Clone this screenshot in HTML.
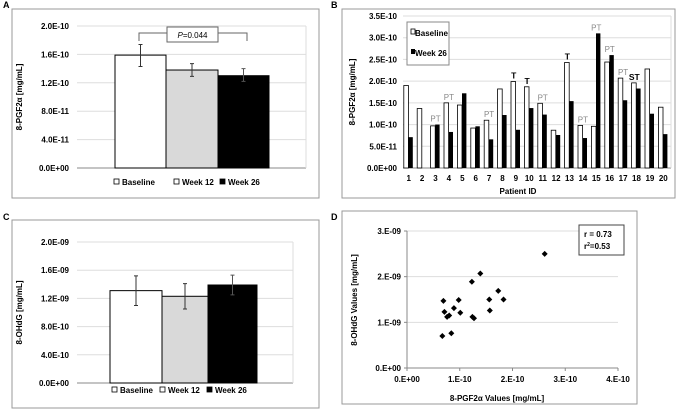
<!DOCTYPE html>
<html><head><meta charset="utf-8"><style>
html,body{margin:0;padding:0;background:#fff;}
svg{display:block;font-family:"Liberation Sans",Arial,sans-serif;font-weight:bold;}
</style></head><body>
<svg id="fig" width="680" height="417" viewBox="0 0 680 417" xmlns="http://www.w3.org/2000/svg">
<g font-size="9">
<text x="3" y="8">A</text>
<text x="331" y="8">B</text>
<text x="3" y="220">C</text>
<text x="331" y="220">D</text>
</g>
<rect x="12" y="9" width="307" height="189" fill="#fff" stroke="#999"/>
<rect x="342" y="9" width="333" height="189" fill="#fff" stroke="#999"/>
<rect x="12" y="220" width="307" height="188" fill="#fff" stroke="#999"/>
<rect x="342" y="211" width="295" height="193" fill="#fff" stroke="#999"/>
<g id="A"></g>
<g id="B"></g>
<g id="C"></g>
<g id="D"></g>
</svg>
<script>
// Panel A data
const aCats = ["Baseline","Week 12","Week 26"];
const aVals = [1.59e-10,1.38e-10,1.30e-10];
const aLo = [1.43e-10,1.29e-10,1.22e-10];
const aHi = [1.74e-10,1.47e-10,1.40e-10];
const aTicks = [0,4e-11,8e-11,1.2e-10,1.6e-10,2e-10];
const aTickLabels = ["0.0E+00","4.0E-11","8.0E-11","1.2E-10","1.6E-10","2.0E-10"];
// Panel B data
const bPatients = ["1","2","3","4","5","6","7","8","9","10","11","12","13","14","15","16","17","18","19","20"];
const bBase = [1.90,1.37,0.97,1.50,1.45,0.92,1.10,1.82,1.99,1.87,1.49,0.87,2.43,0.98,0.96,2.44,2.07,1.96,2.28,1.40];
const bW26 = [0.71,0,1.00,0.83,1.72,0.96,0.66,1.22,0.88,1.38,1.23,0.76,1.54,0.69,3.10,2.60,1.56,1.83,1.25,0.78];
const bNotes = ["","","PT","PT","","","PT","","T","T","PT","","T","PT","PT","PT","PT","ST","",""];
const bTicks = [0,0.5,1,1.5,2,2.5,3,3.5];
const bTickLabels = ["0.0E+00","5.0E-11","1.0E-10","1.5E-10","2.0E-10","2.5E-10","3.0E-10","3.5E-10"];
// Panel C data
const cCats = ["Baseline","Week 12","Week 26"];
const cVals = [1.31e-9,1.23e-9,1.39e-9];
const cLo = [1.10e-9,1.05e-9,1.25e-9];
const cHi = [1.52e-9,1.41e-9,1.53e-9];
const cTicks = [0,4e-10,8e-10,1.2e-9,1.6e-9,2e-9];
const cTickLabels = ["0.0E+00","4.0E-10","8.0E-10","1.2E-09","1.6E-09","2.0E-09"];
// Panel D data (x in 1e-10, y in 1e-9)
const dX = [0.69,0.71,0.76,0.80,0.67,0.84,0.89,0.98,1.01,1.23,1.24,1.27,1.39,1.56,1.57,1.73,1.83,2.61];
const dY = [1.47,1.23,1.12,1.15,0.70,0.76,1.31,1.49,1.21,1.89,1.12,1.09,2.07,1.50,1.26,1.69,1.50,2.50];
const dXTicks = [0,1,2,3,4];
const dXLabels = ["0.E+00","1.E-10","2.E-10","3.E-10","4.E-10"];
const dYTicks = [0,1,2,3];
const dYLabels = ["0.E+00","1.E-09","2.E-09","3.E-09"];

const NS="http://www.w3.org/2000/svg";
function mk(parent,tag,attrs,text){const e=document.createElementNS(NS,tag);for(const k in attrs)e.setAttribute(k,attrs[k]);if(text!==undefined)e.textContent=text;parent.appendChild(e);return e;}
const fills=["#fff","#d9d9d9","#000"];

function barPanel(g,cats,vals,lo,hi,ticks,labels,cfg,ytitle){
  const y=v=>cfg.y0-(v/cfg.max)*(cfg.y0-cfg.y1);
  ticks.forEach((t,i)=>{
    const l=mk(g,"line",{x1:cfg.x0,x2:cfg.x1,y1:y(t),y2:y(t),stroke:i==0?"#888":"#ddd","stroke-width":1});
    
    
    const tx=mk(g,"text",{x:cfg.x0-8,y:y(t)+3,"font-size":8,"text-anchor":"end"},labels[i]);
    
    
  });
  mk(g,"line",{x1:cfg.x1,x2:cfg.x1,y1:cfg.y1,y2:cfg.y0,stroke:"#ddd"});
  cats.forEach((c,i)=>{
    const bx=cfg.bx[i],bw=cfg.bx[i+1]-cfg.bx[i];
    const r=mk(g,"rect",{x:bx,y:y(vals[i]),width:bw,height:cfg.y0-y(vals[i]),fill:fills[i],stroke:"#000","stroke-width":1});
    
    
    const cx=bx+bw/2;
    const e=mk(g,"path",{d:`M${cx},${y(lo[i])}V${y(hi[i])}M${cx-2},${y(lo[i])}h4M${cx-2},${y(hi[i])}h4`,stroke:i==2?"#555":"#333","stroke-width":1,fill:"none"});
    
    
  });
  const t=mk(g,"text",{transform:`translate(${cfg.tx},${(cfg.y0+cfg.y1)/2}) rotate(-90)`,"font-size":8,"text-anchor":"middle"},ytitle);
  
  
  const lg=mk(g,"g",{});
  
  
  cats.forEach((c,i)=>{
    const lx=cfg.lx[i];
    mk(lg,"rect",{x:lx,y:cfg.ly-6,width:5,height:5,fill:i==2?"#000":"#fff",stroke:"#000","stroke-width":0.8});
    const tt=mk(lg,"text",{x:lx+8,y:cfg.ly,"font-size":8},c);
    
    
  });
}
const A=document.getElementById("A");
barPanel(A,aCats,aVals,aLo,aHi,aTicks,aTickLabels,{x0:77,x1:306,y0:168,y1:26,max:2e-10,bx:[115,166,218,269],tx:22,lx:[114,174,220],ly:185},"8-PGF2\u03b1 [mg/mL]");
// P-value bracket
mk(A,"path",{d:"M139,41V33H167M218,33H247V41",stroke:"#666",fill:"none"});
const pb=mk(A,"rect",{x:167,y:27,width:51,height:15,fill:"#fff",stroke:"#666"});


const pt=mk(A,"text",{x:192.5,y:38,"font-size":8,"font-weight":"normal","text-anchor":"middle"});
mk(pt,"tspan",{"font-style":"italic"},"P");
mk(pt,"tspan",{},"=0.044");

const C=document.getElementById("C");
barPanel(C,cCats,cVals,cLo,cHi,cTicks,cTickLabels,{x0:77,x1:293,y0:383,y1:242,max:2e-9,bx:[110,162,208,257],tx:22,lx:[112,160,207],ly:393},"8-OHdG [mg/mL]");

// Panel B
const B=document.getElementById("B");
(function(){
  const x0=403,x1=671,y0=168,y1=16,max=3.5;
  const y=v=>y0-(v/max)*(y0-y1);
  const gw=(x1-x0)/bPatients.length;
  bTicks.forEach((t,i)=>{
    const l=mk(B,"line",{x1:x0,x2:x1,y1:y(t),y2:y(t),stroke:i==0?"#888":"#ddd"});
    
    
    const tx=mk(B,"text",{x:x0-6,y:y(t)+3,"font-size":8,"text-anchor":"end"},bTickLabels[i]);
    
    
  });
  mk(B,"line",{x1:x1,x2:x1,y1:y1,y2:y0,stroke:"#ddd"});
  bPatients.forEach((p,i)=>{
    const gx=x0+i*gw;
    const r1=mk(B,"rect",{x:gx+0.8,y:y(bBase[i]),width:4.6,height:y0-y(bBase[i]),fill:"#fff",stroke:"#000","stroke-width":0.8});
    
    
    if(bW26[i]>0){
      const r2=mk(B,"rect",{x:gx+5.4,y:y(bW26[i]),width:4.4,height:y0-y(bW26[i]),fill:"#000"});
      
      
    }
    const lt=mk(B,"text",{x:gx+gw/2-1,y:181,"font-size":8,"text-anchor":"middle"},p);
    
    
    if(bNotes[i]){
      const isPT=bNotes[i]=="PT";
      const top=Math.max(bBase[i],bW26[i]);
      const nx=isPT?gx+gw/2-1:gx+3.5;
      const nt=mk(B,"text",{x:nx,y:y(top)-3,"font-size":isPT?8:8.5,"font-weight":isPT?"normal":"bold",fill:isPT?"#888":"#000","text-anchor":"middle"},bNotes[i]);
      
      
    }
  });
  const xt=mk(B,"text",{x:518,y:194,"font-size":8,"text-anchor":"middle"},"Patient ID");
  
  
  const yt=mk(B,"text",{transform:`translate(355,${(y0+y1)/2}) rotate(-90)`,"font-size":8,"text-anchor":"middle"},"8-PGF2\u03b1 [mg/mL]");
  
  
  const lg=mk(B,"g",{});
  
  
  mk(lg,"rect",{x:407,y:22,width:42,height:43,fill:"#fff",stroke:"#888"});
  mk(lg,"rect",{x:411,y:29,width:4,height:5,fill:"#fff",stroke:"#000","stroke-width":0.8});
  mk(lg,"text",{x:415,y:36,"font-size":8},"Baseline");
  mk(lg,"rect",{x:411,y:49,width:4,height:5,fill:"#000"});
  mk(lg,"text",{x:415,y:56,"font-size":8},"Week 26");
})();

// Panel D
const D=document.getElementById("D");
(function(){
  const x0=407,x1=618,y0=368,y1=231;
  const sx=v=>x0+v/4*(x1-x0), sy=v=>y0-v/3*(y0-y1);
  dYTicks.forEach((t,i)=>{
    const l=mk(D,"line",{x1:x0,x2:x1,y1:sy(t),y2:sy(t),stroke:i==0?"#888":"#ddd"});
    
    
    mk(D,"line",{x1:x0-3,x2:x0,y1:sy(t),y2:sy(t),stroke:"#888"});
    const tx=mk(D,"text",{x:x0-6,y:sy(t)+3,"font-size":8,"text-anchor":"end"},dYLabels[i]);
    
    
  });
  mk(D,"line",{x1:x0,x2:x0,y1:y1,y2:y0,stroke:"#888"});
  dXTicks.forEach((t,i)=>{
    mk(D,"line",{x1:sx(t),x2:sx(t),y1:y0,y2:y0+3,stroke:"#888"});
    const tx=mk(D,"text",{x:sx(t),y:382,"font-size":8,"text-anchor":"middle"},dXLabels[i]);
    
    
  });
  dX.forEach((v,i)=>{
    const cx=sx(v),cy=sy(dY[i]);
    const p=mk(D,"path",{d:`M${cx},${cy-3}L${cx+3},${cy}L${cx},${cy+3}L${cx-3},${cy}Z`,fill:"#000"});
    
    
  });
  const xt=mk(D,"text",{x:497,y:401,"font-size":8,"text-anchor":"middle"},"8-PGF2\u03b1 Values [mg/mL]");
  
  
  const yt=mk(D,"text",{transform:`translate(357,300) rotate(-90)`,"font-size":8,"text-anchor":"middle"},"8-OHdG Values [mg/mL]");
  
  
  const box=mk(D,"g",{});
  
  
  mk(box,"rect",{x:579,y:225,width:45,height:30,fill:"#fff",stroke:"#444"});
  mk(box,"text",{x:584,y:237,"font-size":8},"r = 0.73");
  const t2=mk(box,"text",{x:584,y:249,"font-size":8},"r");
  mk(t2,"tspan",{"font-size":5,dy:-3},"2");
  mk(t2,"tspan",{dy:3},"=0.53");
})();
</script>
</body></html>
